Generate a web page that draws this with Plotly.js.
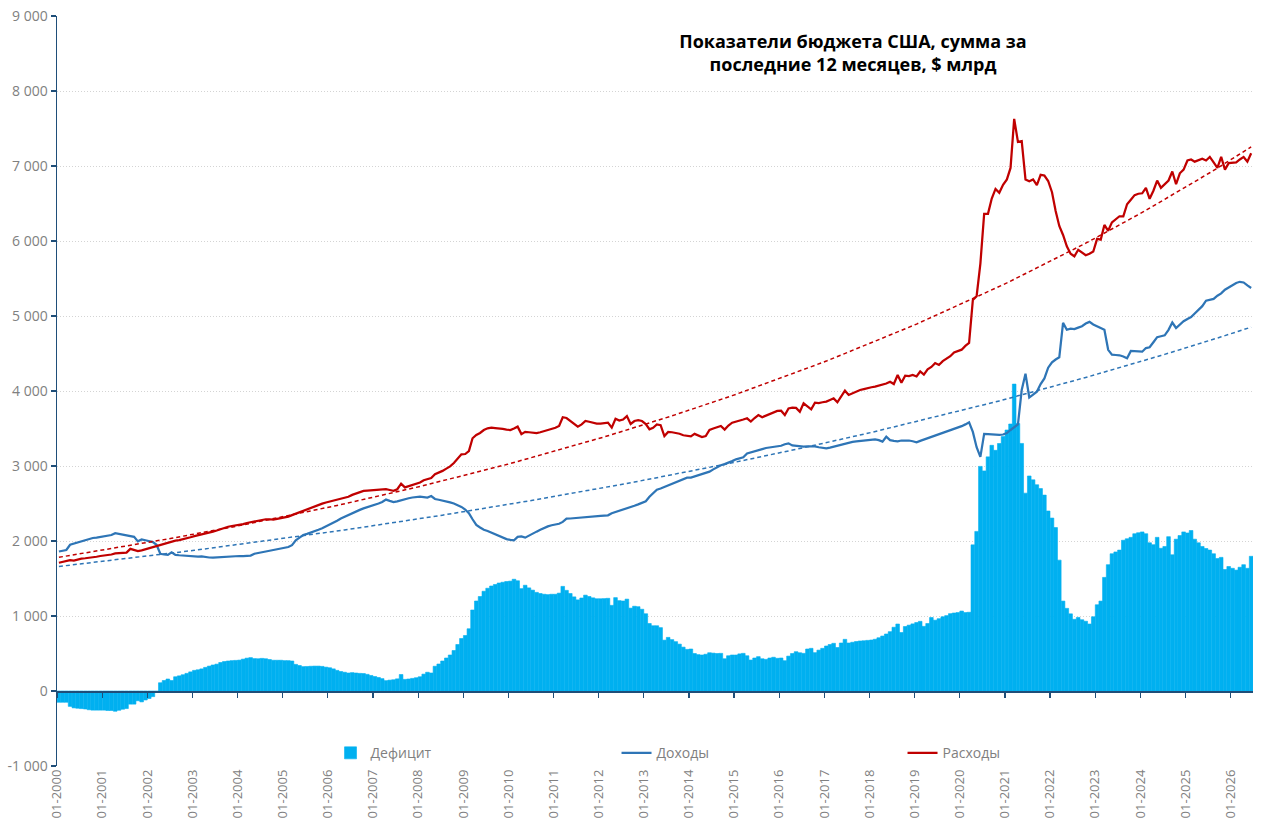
<!DOCTYPE html>
<html>
<head>
<meta charset="utf-8">
<script src="https://cdn.plot.ly/plotly-3.0.1.min.js"></script>
<style>html,body{margin:0;padding:0;background:#fff;}#chart{width:1280px;height:838px;}</style>
</head>
<body>
<div id="chart"></div>
<script>
// First month of the series (01-2000); one value per month up to 06-2026
const startYear = 2000;

// Доходы, 12-month sum, $ bn (one row per year)
const revenue = [
1860,1870,1880,1950,1965,1985,2000,2010,2025,2040,2045,2055,
2060,2075,2080,2105,2095,2085,2080,2070,2055,1995,2020,2010,
2000,1985,1950,1830,1820,1815,1850,1815,1810,1805,1800,1795,
1790,1792,1795,1785,1780,1778,1782,1780,1785,1790,1795,1800,
1800,1800,1802,1805,1830,1845,1850,1860,1870,1875,1885,1895,
1905,1920,1945,2010,2045,2080,2095,2110,2130,2150,2170,2195,
2215,2240,2270,2300,2325,2350,2370,2390,2415,2435,2450,2468,
2482,2500,2520,2552,2535,2520,2528,2545,2560,2570,2580,2588,
2590,2585,2580,2600,2560,2550,2535,2525,2515,2500,2480,2455,
2420,2370,2290,2215,2180,2150,2133,2110,2085,2065,2045,2025,
2015,2010,2055,2060,2045,2075,2100,2125,2150,2175,2195,2210,
2220,2230,2255,2298,2300,2305,2310,2315,2322,2330,2333,2335,
2335,2338,2342,2370,2385,2400,2420,2440,2455,2470,2488,2510,
2530,2590,2640,2685,2700,2722,2740,2765,2787,2805,2825,2845,
2845,2860,2878,2900,2910,2925,2955,2985,3010,3025,3040,3065,
3089,3100,3116,3168,3180,3195,3212,3225,3240,3248,3255,3262,
3270,3290,3302,3275,3268,3262,3258,3262,3266,3262,3250,3240,
3236,3245,3258,3275,3290,3305,3315,3322,3328,3335,3342,3350,
3352,3356,3345,3325,3390,3345,3335,3330,3340,3345,3340,3330,
3316,3335,3352,3370,3385,3403,3425,3445,3464,3480,3495,3512,
3531,3555,3582,3454,3250,3122,3429,3425,3420,3413,3415,3420,
3440,3480,3520,3556,4015,4230,3913,3950,3990,4092,4168,4311,
4383,4420,4449,4908,4816,4830,4825,4845,4864,4900,4922,4888,
4860,4840,4816,4549,4485,4480,4476,4460,4437,4534,4530,4525,
4524,4573,4583,4650,4718,4730,4743,4816,4913,4840,4888,4930,
4961,4985,5034,5080,5131,5204,5215,5228,5270,5301,5350,5380,
5408,5440,5456,5447,5408,5374
];

// Расходы, 12-month sum, $ bn
const expenses = [
1710,1720,1730,1745,1740,1755,1765,1770,1775,1785,1790,1800,
1805,1815,1820,1835,1838,1842,1846,1895,1880,1865,1875,1890,
1900,1910,1930,1940,1960,1975,1990,2005,2012,2022,2035,2050,
2065,2075,2090,2100,2112,2125,2140,2160,2178,2190,2200,2208,
2212,2225,2240,2250,2262,2275,2285,2290,2290,2285,2295,2305,
2310,2325,2345,2365,2385,2405,2422,2440,2462,2482,2498,2513,
2525,2535,2545,2560,2575,2590,2615,2630,2650,2668,2672,2675,
2675,2680,2685,2690,2680,2670,2690,2765,2715,2730,2748,2765,
2780,2810,2830,2840,2890,2910,2935,2965,2995,3040,3100,3155,
3160,3200,3370,3415,3440,3480,3503,3510,3505,3505,3495,3485,
3480,3500,3525,3425,3455,3450,3445,3440,3450,3465,3480,3500,
3510,3535,3650,3640,3600,3560,3525,3555,3600,3590,3575,3565,
3565,3570,3578,3512,3630,3605,3620,3665,3560,3600,3612,3600,
3560,3490,3510,3555,3545,3400,3455,3450,3445,3430,3410,3400,
3395,3428,3405,3385,3400,3480,3500,3520,3533,3485,3540,3578,
3590,3604,3620,3636,3592,3640,3680,3650,3670,3692,3710,3735,
3738,3680,3768,3778,3775,3724,3836,3790,3756,3844,3840,3850,
3858,3880,3902,3850,3930,4004,3947,3970,3990,4013,4025,4040,
4050,4058,4070,4085,4100,4124,4093,4213,4110,4205,4200,4215,
4194,4260,4219,4290,4321,4372,4347,4398,4430,4464,4515,4530,
4551,4602,4640,5214,5265,5699,6362,6362,6566,6694,6643,6750,
6821,6974,7628,7321,7332,6821,6796,6821,6745,6883,6872,6800,
6650,6400,6200,6080,5930,5830,5796,5883,5845,5811,5830,5859,
6029,6019,6214,6136,6248,6290,6330,6330,6490,6550,6612,6630,
6636,6709,6563,6670,6806,6709,6760,6806,6927,6757,6903,6951,
7073,7087,7058,7080,7097,7073,7121,7048,6976,7121,6951,7039,
7045,7048,7087,7121,7058,7170
];

// Дефицит, 12-month sum, $ bn
const deficit = [
-150,-150,-150,-205,-225,-230,-235,-240,-250,-255,-255,-255,
-255,-260,-260,-270,-257,-243,-234,-175,-175,-130,-145,-120,
-100,-75,-20,110,140,160,140,190,202,217,235,255,
275,283,295,315,332,347,358,380,393,400,405,408,
412,425,438,445,432,430,435,430,420,410,410,410,
405,405,400,355,340,325,327,330,332,332,328,318,
310,295,275,260,250,240,245,240,235,233,222,207,
193,180,165,138,145,150,162,220,155,160,168,177,
190,225,250,240,330,360,400,440,480,540,620,700,
740,830,1080,1200,1260,1330,1370,1400,1420,1440,1450,1460,
1465,1490,1470,1365,1410,1375,1345,1315,1300,1290,1285,1290,
1290,1305,1395,1342,1300,1255,1215,1240,1278,1260,1242,1230,
1230,1232,1236,1142,1245,1205,1200,1225,1105,1130,1124,1090,
1030,900,870,870,845,678,715,685,658,625,585,555,
560,500,485,480,490,510,505,500,502,430,470,480,
480,495,502,470,413,440,458,430,422,440,450,436,
440,404,465,500,524,510,502,560,569,511,545,569,
600,620,636,580,640,689,640,650,660,667,670,675,
680,690,710,733,760,791,850,893,780,860,878,895,
913,929,862,900,980,944,964,990,1005,1031,1040,1046,
1066,1046,1050,1949,2128,2995,2934,3122,3276,3209,3300,3393,
3480,3560,4092,3566,3301,2638,2867,2816,2750,2699,2612,2400,
2306,2179,1745,1199,1102,1029,956,981,950,930,893,990,
1150,1199,1515,1684,1830,1854,1879,2010,2030,2049,2097,2110,
2121,2097,1976,1951,2049,1903,1927,2058,1816,2024,2073,2121,
2107,2140,2024,1976,1927,1900,1879,1830,1767,1782,1620,1660,
1636,1612,1650,1684,1636,1796
];

// Y tick labels
const yTickVals = [-1000,0,1000,2000,3000,4000,5000,6000,7000,8000,9000];
const yTickText = ['-1 000','0','1 000','2 000','3 000','4 000','5 000','6 000','7 000','8 000','9 000'];

const seriesNames = {def:'Дефицит', rev:'Доходы', exp:'Расходы'};
const titleText = '<b>Показатели бюджета США, сумма за<br>последние 12 месяцев, $ млрд</b>';

// month categories
const months = [];
for (let i = 0; i < revenue.length; i++) {
  const y = startYear + Math.floor(i / 12);
  const m = (i % 12) + 1;
  months.push(y + '-' + String(m).padStart(2, '0') + '-01');
}

// Exponential trendline (least squares on ln y), as Excel does
function expTrend(vals) {
  const n = vals.length;
  let st = 0, sl = 0, stt = 0, stl = 0;
  for (let i = 0; i < n; i++) {
    const l = Math.log(vals[i]);
    st += i; sl += l; stt += i * i; stl += i * l;
  }
  const b = (n * stl - st * sl) / (n * stt - st * st);
  const a = (sl - b * st) / n;
  return vals.map((_, i) => Math.exp(a + b * i));
}

const BLUE = '#2E75B6', RED = '#C00000', BAR = '#00B0F0', AXIS = '#1F4E79';
const per = {xperiod: 'M1', xperiodalignment: 'middle'};

const traces = [
  Object.assign({type:'bar', name:seriesNames.def, x:months, y:deficit,
    marker:{color:BAR, line:{color:BAR, width:0.6}}}, per),
  Object.assign({type:'scatter', mode:'lines', name:seriesNames.rev, x:months, y:revenue,
    line:{color:BLUE, width:2.25}}, per),
  Object.assign({type:'scatter', mode:'lines', name:seriesNames.exp, x:months, y:expenses,
    line:{color:RED, width:2.25}}, per),
  Object.assign({type:'scatter', mode:'lines', x:months, y:expTrend(revenue), xaxis:'x2',
    showlegend:false, line:{color:BLUE, width:1.5, dash:'4px,3px'}}, per),
  Object.assign({type:'scatter', mode:'lines', x:months, y:expTrend(expenses), xaxis:'x2',
    showlegend:false, line:{color:RED, width:1.5, dash:'4px,3px'}}, per)
];

const xr = ['2000-01-01', '2026-07-01'];
const layout = {
  width:1280, height:838,
  margin:{l:57, r:27, t:16, b:72},
  paper_bgcolor:'#ffffff', plot_bgcolor:'#ffffff',
  font:{family:'"Open Sans", sans-serif', color:'#808080', size:13},
  showlegend:true,
  bargap:0,
  hovermode:false,
  title:{text:titleText, x:853/1280, xanchor:'center', y:1-48/838, yanchor:'middle',
    font:{family:'"Open Sans", sans-serif', size:18, color:'#000000'}},
  xaxis:{type:'date', range:xr, tickmode:'linear', tick0:'2000-01-01', dtick:'M12',
    tickformat:'%m-%Y', tickangle:-90, showgrid:false, showline:false, zeroline:false,
    ticks:'', tickfont:{size:13, color:'#808080'}, automargin:false},
  xaxis2:{type:'date', range:xr, overlaying:'x', anchor:'free', position:0.1,
    tickmode:'linear', tick0:'2000-01-01', dtick:'M12', showticklabels:false,
    showgrid:false, zeroline:false, showline:true, linecolor:AXIS, linewidth:1.5,
    ticks:'outside', ticklen:5, tickwidth:1.2, tickcolor:AXIS},
  yaxis:{range:[-1000, 9000], tickmode:'array', tickvals:yTickVals, ticktext:yTickText,
    showgrid:true, gridcolor:'#d4d4d4', griddash:'1px,2px', gridwidth:1,
    showline:true, linecolor:AXIS, linewidth:1.5, ticks:'outside', ticklen:5,
    tickwidth:1.2, tickcolor:AXIS, zeroline:false, tickfont:{size:14, color:'#808080'},
    automargin:false},
  legend:{orientation:'h', x:0.2287, xanchor:'left', y:0.017, yanchor:'middle',
    font:{size:14, color:'#7f7f7f'}, entrywidth:241, entrywidthmode:'pixels',
    bgcolor:'rgba(0,0,0,0)', traceorder:'normal'}
};

Plotly.newPlot('chart', traces, layout, {staticPlot:true, displayModeBar:false});
</script>
</body>
</html>
